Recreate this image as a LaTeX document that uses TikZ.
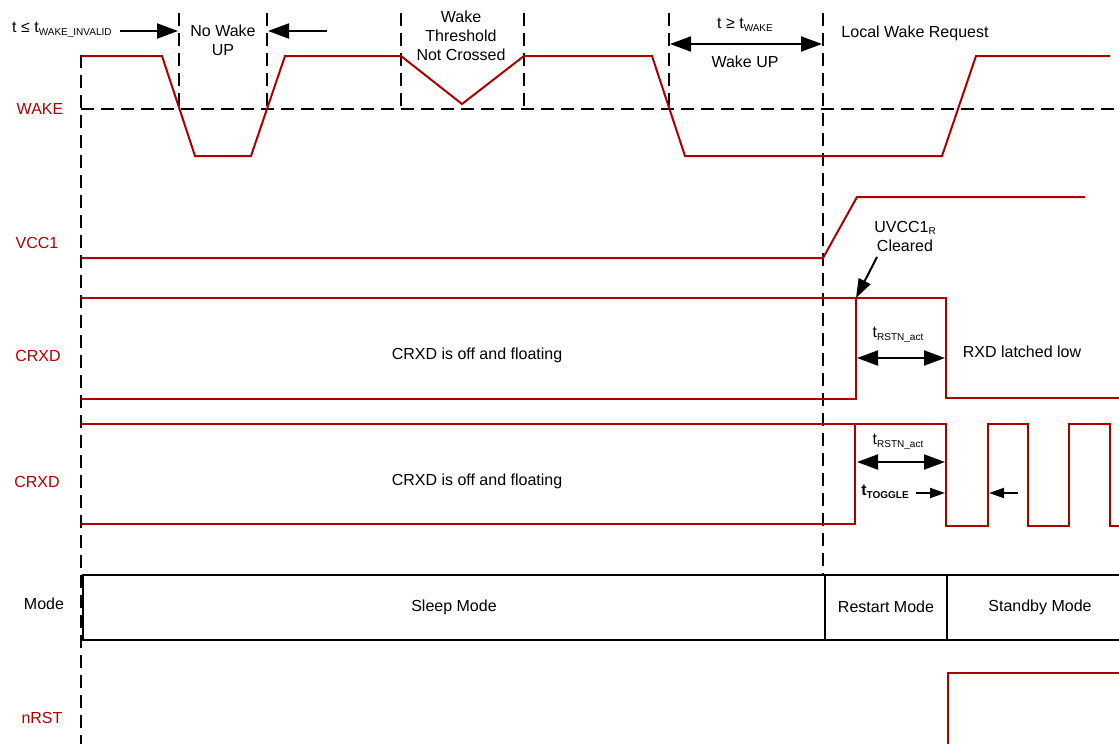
\documentclass[tikz,border=0pt]{standalone}
\usepackage{fontspec}
\setmainfont{Liberation Sans}
\usetikzlibrary{arrows.meta}
\definecolor{wred}{RGB}{170,0,0}
\newcommand{\lsub}[1]{\raisebox{-2.5pt}{\fontsize{10}{11}\selectfont #1}}
\begin{document}
\begin{tikzpicture}[x=1pt,y=-1pt,
  wave/.style={draw=wred, line width=2pt, line join=miter},
  guide/.style={draw=black, line width=2pt, dash pattern=on 13pt off 7pt},
  boxline/.style={draw=black, line width=2pt},
  lbl/.style={text=wred, font=\fontsize{16}{18}\selectfont, inner sep=0pt},
  txt/.style={font=\fontsize{16}{19}\selectfont, align=center, inner sep=0pt},
  bigarrow/.style={-{Triangle[length=21pt,width=15pt]}, line width=2pt},
  dblarrow/.style={{Triangle[length=21pt,width=15pt]}-{Triangle[length=21pt,width=15pt]}, line width=2pt},
  smallarrow/.style={-{Triangle[length=15pt,width=10pt]}, line width=2pt},
  midarrow/.style={-{Triangle[length=19pt,width=13pt]}, line width=2pt}]
\useasboundingbox (0,0) rectangle (1119,744);

% ---------- guide lines ----------
\draw[guide] (81,55) -- (81,744);
\draw[guide] (81,109) -- (1119,109);
\draw[guide] (179,13) -- (179,110);
\draw[guide] (267,13) -- (267,110);
\draw[guide] (401,13) -- (401,110);
\draw[guide] (524,13) -- (524,110);
\draw[guide] (669,13) -- (669,110);
\draw[guide] (823,13) -- (823,575);

% ---------- signal labels ----------
\node[lbl] (lwake) at (40,109) {WAKE};
\node[lbl] (lvcc) at (37,243) {VCC1};
\node[lbl] (lcrxd1) at (38,356) {CRXD};
\node[lbl] (lcrxd2) at (37,482) {CRXD};
\node[lbl, text=black] (lmode) at (44,604) {Mode};
\node[lbl] (lnrst) at (42,718) {nRST};

% ---------- WAKE waveform ----------
\draw[wave] (81,56) -- (162,56) -- (195,156) -- (251,156) -- (285,56)
  -- (401,56) -- (462,104) -- (524,56) -- (652,56) -- (685,156)
  -- (942,156) -- (976,56) -- (1110,56);

% ---------- VCC1 waveform ----------
\draw[wave] (81,258) -- (823,258) -- (857,197) -- (1085,197);

% ---------- CRXD 1 ----------
\draw[wave] (81,298) -- (946,298) -- (946,398) -- (1119,398);
\draw[wave] (81,399) -- (856,399) -- (856,298);

% ---------- CRXD 2 ----------
\draw[wave] (81,424) -- (946,424) -- (946,526) -- (988,526) -- (988,424)
  -- (1028,424) -- (1028,526) -- (1069,526) -- (1069,424) -- (1110,424)
  -- (1110,526) -- (1119,526);
\draw[wave] (81,524) -- (855,524) -- (855,424);

% ---------- nRST ----------
\draw[wave] (948,744) -- (948,673) -- (1119,673);

% ---------- Mode box ----------
\draw[boxline] (1119,575) -- (83,575) -- (83,640) -- (1119,640);
\draw[boxline] (825,575) -- (825,640);
\draw[boxline] (947,575) -- (947,640);
\node[txt] (sleep) at (454,607) {Sleep Mode};
\node[txt] (restart) at (886,607) {Restart Mode};
\node[txt] (standby) at (1040,607) {Standby Mode};

% ---------- top annotations ----------
\node[txt, anchor=west] (tinv) at (12,30) {t ≤ t\lsub{WAKE\_INVALID}};
\node[txt] (nowake) at (223,40) {No Wake\\UP};
\node[txt] (thresh) at (461,36) {Wake\\Threshold\\Not Crossed};
\node[txt] (twake) at (745,25) {t ≥ t\lsub{WAKE}};
\node[txt] (wakeup) at (745,62) {Wake UP};
\node[txt] (local) at (915,33) {Local Wake Request};

\coordinate (a1s) at (120,31);
\coordinate (a1e) at (178,31);
\coordinate (a2s) at (327,31);
\coordinate (a2e) at (268,31);
\draw[bigarrow] (a1s) -- (a1e);
\draw[bigarrow] (a2s) -- (a2e);
\coordinate (wl) at (670,44);
\coordinate (wr) at (822,44);
\draw[dblarrow] (wl) -- (wr);

% ---------- VCC1 / CRXD annotations ----------
\node[txt] (uvcc) at (905,236) {UVCC1\lsub{R}\\Cleared};
\coordinate (uvs) at (877,257);
\coordinate (uve) at (856,298);
\draw[midarrow] (uvs) -- (uve);

\node[txt] (tr1) at (898,335) {t\lsub{RSTN\_act}};
\coordinate (r1l) at (857,358);
\coordinate (r1r) at (945,358);
\draw[dblarrow] (r1l) -- (r1r);
\node[txt] (latched) at (1022,352) {RXD latched low};
\node[txt] (float1) at (477,355) {CRXD is off and floating};

\node[txt] (float2) at (477,481) {CRXD is off and floating};
\node[txt] (tr2) at (898,442) {t\lsub{RSTN\_act}};
\coordinate (r2l) at (857,462);
\coordinate (r2r) at (945,462);
\draw[dblarrow] (r2l) -- (r2r);
\node[txt, font=\fontsize{16}{19}\selectfont\bfseries] (ttog) at (885,492) {t\lsub{\bfseries TOGGLE}};
\coordinate (t1s) at (916,493);
\coordinate (t1e) at (945,493);
\coordinate (t2s) at (1018,493);
\coordinate (t2e) at (989,493);
\draw[smallarrow] (t1s) -- (t1e);
\draw[smallarrow] (t2s) -- (t2e);
\end{tikzpicture}
\end{document}
